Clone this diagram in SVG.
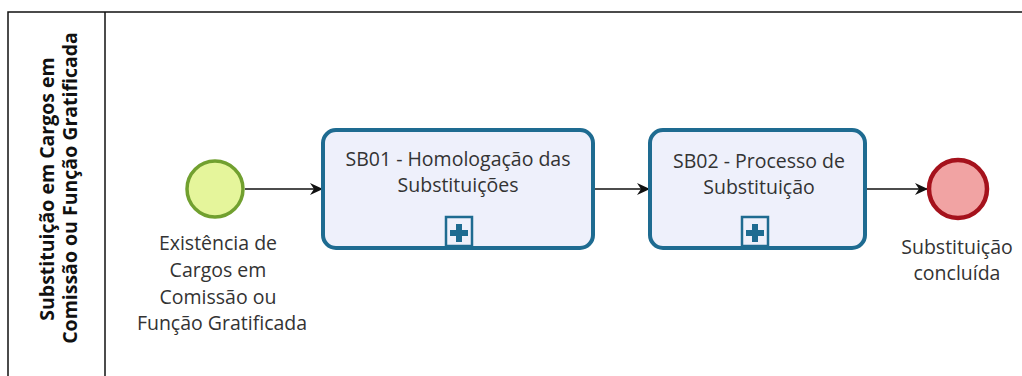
<svg xmlns="http://www.w3.org/2000/svg" width="1022" height="376" viewBox="0 0 1022 376">
<defs>
<style>
.lbl{font-family:"Open Sans","Noto Sans","Liberation Sans",sans-serif;font-size:19.5px;fill:#333;text-anchor:middle}
.lane{font-family:"Open Sans","Noto Sans","Liberation Sans",sans-serif;font-size:19.5px;font-weight:bold;fill:#111;text-anchor:middle}
.task{fill:#eef0fb;stroke:#1e6b91;stroke-width:4}
.mk{fill:#eef0fb;stroke:#1e6b91;stroke-width:2.5}
.flow{fill:none;stroke:#111;stroke-width:1.6}
</style>
<marker id="arr" markerWidth="14" markerHeight="14" refX="12" refY="7" orient="auto" markerUnits="userSpaceOnUse">
<path d="M0,1 L13,7 L0,13 L4,7 Z" fill="#111"/>
</marker>
</defs>
<rect width="1022" height="376" fill="#fff"/>
<g id="pool">
<rect x="8" y="12" width="1030" height="380" fill="none" stroke="#111" stroke-width="1.5"/>
<line x1="105" y1="12" x2="105" y2="376" stroke="#111" stroke-width="1.5"/>
<text class="lane" transform="translate(54,189) rotate(-90)">Substituição em Cargos em</text>
<text class="lane" transform="translate(77,188) rotate(-90)">Comissão ou Função Gratificada</text>
</g>
<g id="connectors">
<line class="flow" x1="245" y1="189" x2="322" y2="189" marker-end="url(#arr)"/>
<line class="flow" x1="593" y1="189" x2="649" y2="189" marker-end="url(#arr)"/>
<line class="flow" x1="865" y1="189" x2="927" y2="189" marker-end="url(#arr)"/>
</g>
<g id="start">
<circle cx="215" cy="189" r="28" fill="#e5f59b" stroke="#71a02f" stroke-width="3.5"/>
<text class="lbl" x="218" y="250">Existência de</text>
<text class="lbl" x="218" y="277">Cargos em</text>
<text class="lbl" x="218" y="304">Comissão ou</text>
<text class="lbl" x="222" y="330">Função Gratificada</text>
</g>
<g id="sb01">
<rect class="task" x="323" y="130" width="270" height="118" rx="13"/>
<text class="lbl" x="458" y="166">SB01 - Homologação das</text>
<text class="lbl" x="458" y="192">Substituições</text>
<rect class="mk" x="446" y="217" width="26" height="29"/>
<path d="M456,224h6v6h6v6h-6v6h-6v-6h-6v-6h6z" fill="#1e6b91"/>
</g>
<g id="sb02">
<rect class="task" x="650" y="130" width="215" height="118" rx="13"/>
<text class="lbl" x="759" y="168">SB02 - Processo de</text>
<text class="lbl" x="759" y="194">Substituição</text>
<rect class="mk" x="742" y="217" width="26" height="29"/>
<path d="M752,224h6v6h6v6h-6v6h-6v-6h-6v-6h6z" fill="#1e6b91"/>
</g>
<g id="end">
<circle cx="958" cy="189" r="29" fill="#f1a3a3" stroke="#a5121c" stroke-width="4.5"/>
<text class="lbl" x="957" y="254">Substituição</text>
<text class="lbl" x="957" y="280">concluída</text>
</g>
</svg>
